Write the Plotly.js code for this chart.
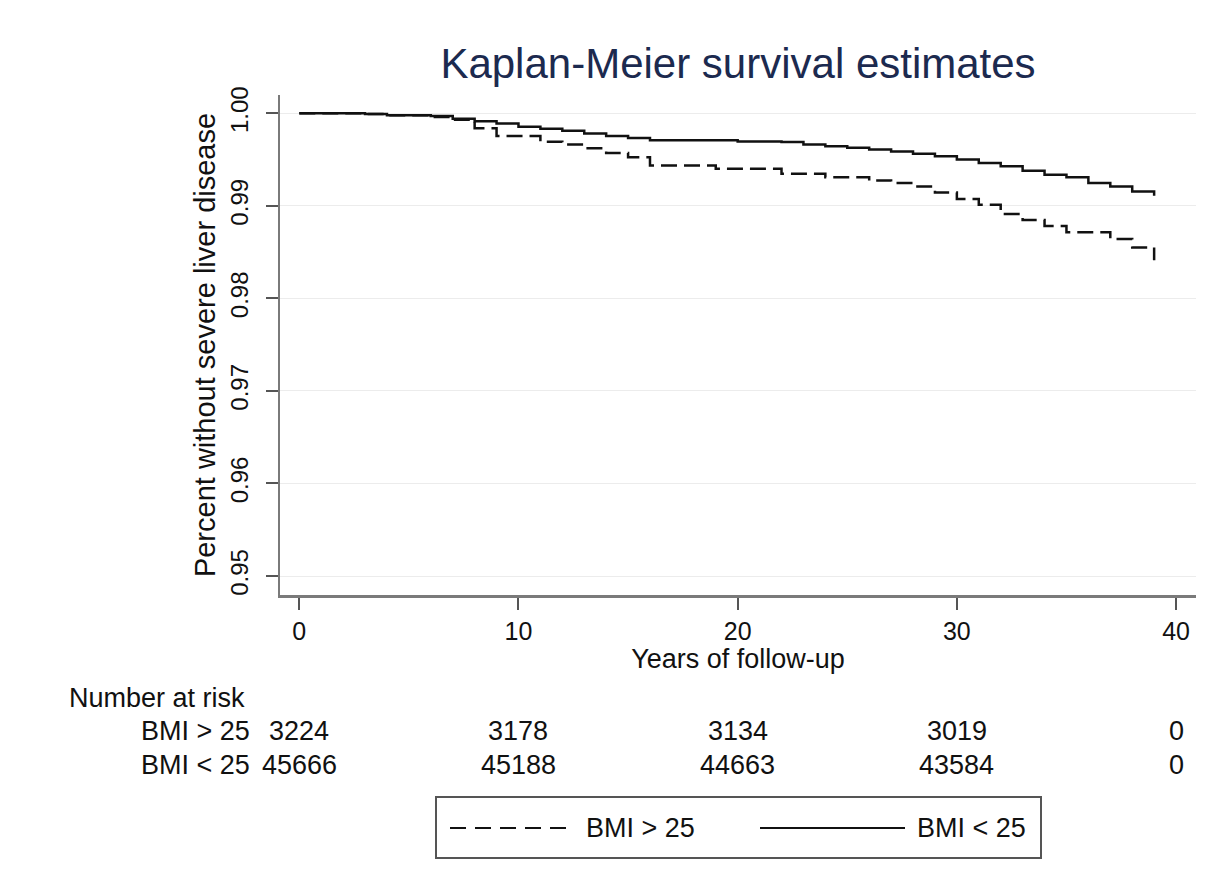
<!DOCTYPE html>
<html>
<head>
<meta charset="utf-8">
<script src="https://cdn.plot.ly/plotly-3.0.1.min.js"></script>
<style>
  html, body { margin: 0; padding: 0; background: #ffffff; }
  #chart { width: 1225px; height: 896px; }
</style>
</head>
<body>
<div id="chart"></div>
<script>
// ---- Data ----
const titleText = 'Kaplan-Meier survival estimates';
const xTitle = 'Years of follow-up';
const yTitle = 'Percent without severe liver disease';

const groupNames = ['BMI > 25', 'BMI < 25'];

// BMI > 25 (dashed) step function
const yearsGt25 = [0, 3, 4, 6, 7, 8, 9, 11, 12, 13, 14, 15, 16, 19, 22, 24, 26, 27, 28, 29, 30, 31, 32, 33, 34, 35, 37, 38, 39];
const survGt25  = [1.0000, 0.99993, 0.99978, 0.9996, 0.9993, 0.99840, 0.99754, 0.99692, 0.99663, 0.99623, 0.99572, 0.99525, 0.99435, 0.99402, 0.99348, 0.99308, 0.99275, 0.99246, 0.9921, 0.99145, 0.99073, 0.99011, 0.98913, 0.98848, 0.98783, 0.98714, 0.98641, 0.98551, 0.98413];

// BMI < 25 (solid) step function
const yearsLt25 = [0, 3, 4, 6, 7, 8, 9, 10, 11, 12, 13, 14, 15, 16, 20, 22, 23, 24, 25, 26, 27, 28, 29, 30, 31, 32, 33, 34, 35, 36, 37, 38, 39];
const survLt25  = [1.0000, 0.99993, 0.99978, 0.9997, 0.99942, 0.99913, 0.99891, 0.99855, 0.99834, 0.99812, 0.99783, 0.99754, 0.99732, 0.9971, 0.99696, 0.9969, 0.99663, 0.99645, 0.99627, 0.99609, 0.99587, 0.99562, 0.99536, 0.995, 0.99464, 0.99427, 0.9938, 0.99337, 0.99308, 0.99246, 0.9921, 0.99156, 0.99109];

// Number at risk table
const riskTimes = [0, 10, 20, 30, 40];
const riskGt25 = [3224, 3178, 3134, 3019, 0];
const riskLt25 = [45666, 45188, 44663, 43584, 0];
const riskHeader = 'Number at risk';

// Axis ticks
const xTickVals = [0, 10, 20, 30, 40];
const yTickVals = [0.95, 0.96, 0.97, 0.98, 0.99, 1.00];

// ---- Styling ----
const FONT = '"Liberation Sans", Arial, Helvetica, sans-serif';
const dashPattern = '16px,7px';
const LW = 2.5;

const traces = [
  {
    x: yearsGt25, y: survGt25, name: groupNames[0], type: 'scatter', mode: 'lines',
    line: { shape: 'hv', color: '#111111', width: LW, dash: dashPattern },
    showlegend: false, hoverinfo: 'skip'
  },
  {
    x: yearsLt25, y: survLt25, name: groupNames[1], type: 'scatter', mode: 'lines',
    line: { shape: 'hv', color: '#111111', width: LW },
    showlegend: false, hoverinfo: 'skip'
  }
];

// Plot area in pixels: left 280, right 1196, top 95, bottom 595
const plotL = 280, plotR = 1196, plotT = 95, plotB = 595;
const pw = plotR - plotL, ph = plotB - plotT;
const px2paperX = (p) => (p - plotL) / pw;
const py2paperY = (p) => (plotB - p) / ph;

const annotations = [];
const tableFont = { family: FONT, size: 27, color: '#111111' };

annotations.push({
  xref: 'paper', yref: 'paper', x: px2paperX(67), y: py2paperY(698),
  xanchor: 'left', yanchor: 'middle', text: riskHeader, showarrow: false, font: tableFont
});
const rowY = [py2paperY(731), py2paperY(765)];
const rows = [riskGt25, riskLt25];
groupNames.forEach((g, i) => {
  annotations.push({
    xref: 'paper', yref: 'paper', x: px2paperX(139), y: rowY[i],
    xanchor: 'left', yanchor: 'middle', text: g, showarrow: false, font: tableFont
  });
  riskTimes.forEach((t, j) => {
    annotations.push({
      xref: 'x', yref: 'paper', x: t, y: rowY[i],
      xanchor: 'center', yanchor: 'middle', text: String(rows[i][j]),
      showarrow: false, font: tableFont
    });
  });
});

// Custom legend box (matches the long line samples of the reference)
const legY = py2paperY(828);
const shapes = [
  { type: 'rect', xref: 'paper', yref: 'paper',
    x0: px2paperX(436), x1: px2paperX(1041), y0: py2paperY(858), y1: py2paperY(797),
    line: { color: '#555555', width: 2 }, fillcolor: 'rgba(0,0,0,0)' },
  { type: 'line', xref: 'paper', yref: 'paper',
    x0: px2paperX(450), x1: px2paperX(572), y0: legY, y1: legY,
    line: { color: '#111111', width: 2, dash: '16px,9px' } },
  { type: 'line', xref: 'paper', yref: 'paper',
    x0: px2paperX(760), x1: px2paperX(905), y0: legY, y1: legY,
    line: { color: '#111111', width: 2 } }
];
annotations.push({
  xref: 'paper', yref: 'paper', x: px2paperX(584), y: legY,
  xanchor: 'left', yanchor: 'middle', text: groupNames[0], showarrow: false, font: tableFont
});
annotations.push({
  xref: 'paper', yref: 'paper', x: px2paperX(915), y: legY,
  xanchor: 'left', yanchor: 'middle', text: groupNames[1], showarrow: false, font: tableFont
});

const layout = {
  width: 1225, height: 896,
  margin: { l: plotL, r: 1225 - plotR, t: plotT, b: 896 - plotB, pad: 0 },
  paper_bgcolor: '#ffffff', plot_bgcolor: '#ffffff',
  font: { family: FONT, color: '#111111' },
  showlegend: false,
  title: {
    text: titleText, x: 0.5, xref: 'paper', xanchor: 'center',
    y: 1 - 63 / 896, yref: 'container', yanchor: 'middle',
    font: { family: FONT, size: 42, color: '#1c2a4f' }
  },
  xaxis: {
    range: [-0.88, 40.91], tickvals: xTickVals, ticktext: xTickVals.map(String),
    showgrid: false, zeroline: false,
    showline: true, linecolor: '#7a7a7a', linewidth: 2.5,
    ticks: 'outside', ticklen: 12, tickwidth: 2, tickcolor: '#555555',
    ticklabelstandoff: 0,
    tickfont: { family: FONT, size: 25, color: '#111111' },
    title: { text: xTitle, standoff: 2, font: { family: FONT, size: 27, color: '#111111' } },
    automargin: false, fixedrange: true
  },
  yaxis: {
    range: [0.94795, 1.00198], tickvals: yTickVals, tickformat: '.2f',
    showgrid: true, gridcolor: '#ececec', gridwidth: 1, zeroline: false,
    showline: true, linecolor: '#7a7a7a', linewidth: 2.5,
    ticks: 'outside', ticklen: 12, tickwidth: 2, tickcolor: '#555555',
    tickangle: -90, ticklabelstandoff: 8,
    tickfont: { family: FONT, size: 24, color: '#111111' },
    title: { text: yTitle, standoff: 2, font: { family: FONT, size: 29, color: '#111111' } },
    automargin: false, fixedrange: true
  },
  shapes: shapes,
  annotations: annotations
};

Plotly.newPlot('chart', traces, layout, { staticPlot: true, displayModeBar: false });
</script>
</body>
</html>
